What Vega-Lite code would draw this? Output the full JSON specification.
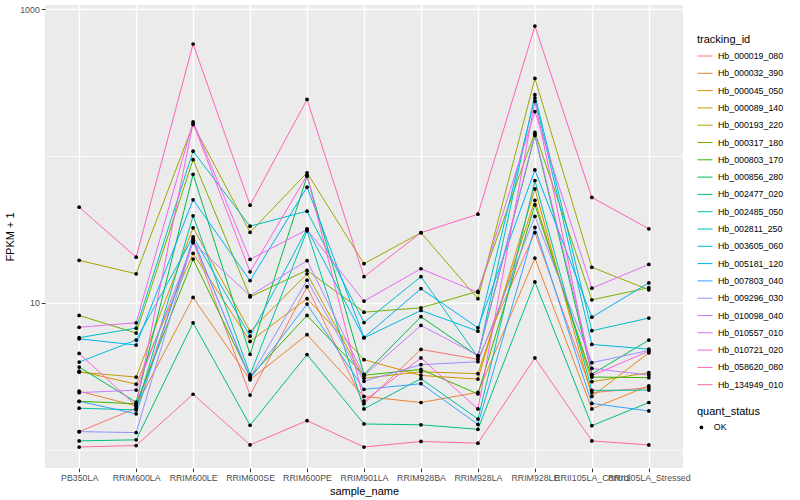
{
  "$schema": "https://vega.github.io/schema/vega-lite/v6.json",
  "width": 638,
  "height": 463,
  "autosize": "none",
  "padding": {"left": 45, "top": 5, "right": 117, "bottom": 32},
  "background": "white",
  "config": {
    "font": "Liberation Sans",
    "view": {"fill": "#EBEBEB", "stroke": null},
    "axis": {
      "domain": false,
      "grid": true,
      "gridColor": "white",
      "tickColor": "#333333",
      "tickSize": 3.7,
      "tickWidth": 1,
      "labelColor": "#4D4D4D",
      "labelFontSize": 8.8,
      "labelPadding": 2,
      "titleFontSize": 11,
      "titleFontWeight": "normal",
      "titleColor": "black"
    },
    "legend": {
      "titleFontSize": 11,
      "titleFontWeight": "normal",
      "titleColor": "black",
      "labelFontSize": 8.8,
      "labelColor": "black",
      "titlePadding": 5
    }
  },
  "data": {"values": [
    {"tracking_id":"Hb_000019_080","sample_name":"PB350LA","FPKM1":1.33,"quant_status":"OK"},
    {"tracking_id":"Hb_000019_080","sample_name":"RRIM600LA","FPKM1":1.92,"quant_status":"OK"},
    {"tracking_id":"Hb_000019_080","sample_name":"RRIM600LE","FPKM1":26.3,"quant_status":"OK"},
    {"tracking_id":"Hb_000019_080","sample_name":"RRIM600SE","FPKM1":2.36,"quant_status":"OK"},
    {"tracking_id":"Hb_000019_080","sample_name":"RRIM600PE","FPKM1":12.9,"quant_status":"OK"},
    {"tracking_id":"Hb_000019_080","sample_name":"RRIM901LA","FPKM1":2.06,"quant_status":"OK"},
    {"tracking_id":"Hb_000019_080","sample_name":"RRIM928BA","FPKM1":4.83,"quant_status":"OK"},
    {"tracking_id":"Hb_000019_080","sample_name":"RRIM928LA","FPKM1":4.13,"quant_status":"OK"},
    {"tracking_id":"Hb_000019_080","sample_name":"RRIM928LE","FPKM1":30.1,"quant_status":"OK"},
    {"tracking_id":"Hb_000019_080","sample_name":"RRII105LA_Control","FPKM1":2.45,"quant_status":"OK"},
    {"tracking_id":"Hb_000019_080","sample_name":"RRII105LA_Stressed","FPKM1":2.65,"quant_status":"OK"},

    {"tracking_id":"Hb_000032_390","sample_name":"PB350LA","FPKM1":2.51,"quant_status":"OK"},
    {"tracking_id":"Hb_000032_390","sample_name":"RRIM600LA","FPKM1":1.99,"quant_status":"OK"},
    {"tracking_id":"Hb_000032_390","sample_name":"RRIM600LE","FPKM1":10.9,"quant_status":"OK"},
    {"tracking_id":"Hb_000032_390","sample_name":"RRIM600SE","FPKM1":3.0,"quant_status":"OK"},
    {"tracking_id":"Hb_000032_390","sample_name":"RRIM600PE","FPKM1":6.08,"quant_status":"OK"},
    {"tracking_id":"Hb_000032_390","sample_name":"RRIM901LA","FPKM1":2.31,"quant_status":"OK"},
    {"tracking_id":"Hb_000032_390","sample_name":"RRIM928BA","FPKM1":2.10,"quant_status":"OK"},
    {"tracking_id":"Hb_000032_390","sample_name":"RRIM928LA","FPKM1":2.46,"quant_status":"OK"},
    {"tracking_id":"Hb_000032_390","sample_name":"RRIM928LE","FPKM1":20.2,"quant_status":"OK"},
    {"tracking_id":"Hb_000032_390","sample_name":"RRII105LA_Control","FPKM1":1.90,"quant_status":"OK"},
    {"tracking_id":"Hb_000032_390","sample_name":"RRII105LA_Stressed","FPKM1":2.73,"quant_status":"OK"},

    {"tracking_id":"Hb_000045_050","sample_name":"PB350LA","FPKM1":3.43,"quant_status":"OK"},
    {"tracking_id":"Hb_000045_050","sample_name":"RRIM600LA","FPKM1":2.80,"quant_status":"OK"},
    {"tracking_id":"Hb_000045_050","sample_name":"RRIM600LE","FPKM1":21.8,"quant_status":"OK"},
    {"tracking_id":"Hb_000045_050","sample_name":"RRIM600SE","FPKM1":5.47,"quant_status":"OK"},
    {"tracking_id":"Hb_000045_050","sample_name":"RRIM600PE","FPKM1":10.7,"quant_status":"OK"},
    {"tracking_id":"Hb_000045_050","sample_name":"RRIM901LA","FPKM1":4.11,"quant_status":"OK"},
    {"tracking_id":"Hb_000045_050","sample_name":"RRIM928BA","FPKM1":3.21,"quant_status":"OK"},
    {"tracking_id":"Hb_000045_050","sample_name":"RRIM928LA","FPKM1":3.03,"quant_status":"OK"},
    {"tracking_id":"Hb_000045_050","sample_name":"RRIM928LE","FPKM1":59.8,"quant_status":"OK"},
    {"tracking_id":"Hb_000045_050","sample_name":"RRII105LA_Control","FPKM1":2.31,"quant_status":"OK"},
    {"tracking_id":"Hb_000045_050","sample_name":"RRII105LA_Stressed","FPKM1":4.58,"quant_status":"OK"},

    {"tracking_id":"Hb_000089_140","sample_name":"PB350LA","FPKM1":3.38,"quant_status":"OK"},
    {"tracking_id":"Hb_000089_140","sample_name":"RRIM600LA","FPKM1":3.13,"quant_status":"OK"},
    {"tracking_id":"Hb_000089_140","sample_name":"RRIM600LE","FPKM1":32.5,"quant_status":"OK"},
    {"tracking_id":"Hb_000089_140","sample_name":"RRIM600SE","FPKM1":6.40,"quant_status":"OK"},
    {"tracking_id":"Hb_000089_140","sample_name":"RRIM600PE","FPKM1":15.8,"quant_status":"OK"},
    {"tracking_id":"Hb_000089_140","sample_name":"RRIM901LA","FPKM1":3.07,"quant_status":"OK"},
    {"tracking_id":"Hb_000089_140","sample_name":"RRIM928BA","FPKM1":3.4,"quant_status":"OK"},
    {"tracking_id":"Hb_000089_140","sample_name":"RRIM928LA","FPKM1":3.30,"quant_status":"OK"},
    {"tracking_id":"Hb_000089_140","sample_name":"RRIM928LE","FPKM1":50,"quant_status":"OK"},
    {"tracking_id":"Hb_000089_140","sample_name":"RRII105LA_Control","FPKM1":2.91,"quant_status":"OK"},
    {"tracking_id":"Hb_000089_140","sample_name":"RRII105LA_Stressed","FPKM1":3.35,"quant_status":"OK"},

    {"tracking_id":"Hb_000193_220","sample_name":"PB350LA","FPKM1":19.5,"quant_status":"OK"},
    {"tracking_id":"Hb_000193_220","sample_name":"RRIM600LA","FPKM1":15.8,"quant_status":"OK"},
    {"tracking_id":"Hb_000193_220","sample_name":"RRIM600LE","FPKM1":164,"quant_status":"OK"},
    {"tracking_id":"Hb_000193_220","sample_name":"RRIM600SE","FPKM1":30.3,"quant_status":"OK"},
    {"tracking_id":"Hb_000193_220","sample_name":"RRIM600PE","FPKM1":77,"quant_status":"OK"},
    {"tracking_id":"Hb_000193_220","sample_name":"RRIM901LA","FPKM1":18.5,"quant_status":"OK"},
    {"tracking_id":"Hb_000193_220","sample_name":"RRIM928BA","FPKM1":30.1,"quant_status":"OK"},
    {"tracking_id":"Hb_000193_220","sample_name":"RRIM928LA","FPKM1":10.7,"quant_status":"OK"},
    {"tracking_id":"Hb_000193_220","sample_name":"RRIM928LE","FPKM1":338,"quant_status":"OK"},
    {"tracking_id":"Hb_000193_220","sample_name":"RRII105LA_Control","FPKM1":17.5,"quant_status":"OK"},
    {"tracking_id":"Hb_000193_220","sample_name":"RRII105LA_Stressed","FPKM1":12.3,"quant_status":"OK"},

    {"tracking_id":"Hb_000317_180","sample_name":"PB350LA","FPKM1":8.22,"quant_status":"OK"},
    {"tracking_id":"Hb_000317_180","sample_name":"RRIM600LA","FPKM1":6.24,"quant_status":"OK"},
    {"tracking_id":"Hb_000317_180","sample_name":"RRIM600LE","FPKM1":94.6,"quant_status":"OK"},
    {"tracking_id":"Hb_000317_180","sample_name":"RRIM600SE","FPKM1":11.0,"quant_status":"OK"},
    {"tracking_id":"Hb_000317_180","sample_name":"RRIM600PE","FPKM1":16.7,"quant_status":"OK"},
    {"tracking_id":"Hb_000317_180","sample_name":"RRIM901LA","FPKM1":8.66,"quant_status":"OK"},
    {"tracking_id":"Hb_000317_180","sample_name":"RRIM928BA","FPKM1":9.27,"quant_status":"OK"},
    {"tracking_id":"Hb_000317_180","sample_name":"RRIM928LA","FPKM1":12.0,"quant_status":"OK"},
    {"tracking_id":"Hb_000317_180","sample_name":"RRIM928LE","FPKM1":145,"quant_status":"OK"},
    {"tracking_id":"Hb_000317_180","sample_name":"RRII105LA_Control","FPKM1":10.5,"quant_status":"OK"},
    {"tracking_id":"Hb_000317_180","sample_name":"RRII105LA_Stressed","FPKM1":12.7,"quant_status":"OK"},

    {"tracking_id":"Hb_000803_170","sample_name":"PB350LA","FPKM1":2.14,"quant_status":"OK"},
    {"tracking_id":"Hb_000803_170","sample_name":"RRIM600LA","FPKM1":2.06,"quant_status":"OK"},
    {"tracking_id":"Hb_000803_170","sample_name":"RRIM600LE","FPKM1":19.9,"quant_status":"OK"},
    {"tracking_id":"Hb_000803_170","sample_name":"RRIM600SE","FPKM1":3.15,"quant_status":"OK"},
    {"tracking_id":"Hb_000803_170","sample_name":"RRIM600PE","FPKM1":8.22,"quant_status":"OK"},
    {"tracking_id":"Hb_000803_170","sample_name":"RRIM901LA","FPKM1":3.22,"quant_status":"OK"},
    {"tracking_id":"Hb_000803_170","sample_name":"RRIM928BA","FPKM1":3.53,"quant_status":"OK"},
    {"tracking_id":"Hb_000803_170","sample_name":"RRIM928LA","FPKM1":2.40,"quant_status":"OK"},
    {"tracking_id":"Hb_000803_170","sample_name":"RRIM928LE","FPKM1":46.6,"quant_status":"OK"},
    {"tracking_id":"Hb_000803_170","sample_name":"RRII105LA_Control","FPKM1":3.13,"quant_status":"OK"},
    {"tracking_id":"Hb_000803_170","sample_name":"RRII105LA_Stressed","FPKM1":3.10,"quant_status":"OK"},

    {"tracking_id":"Hb_000856_280","sample_name":"PB350LA","FPKM1":3.66,"quant_status":"OK"},
    {"tracking_id":"Hb_000856_280","sample_name":"RRIM600LA","FPKM1":2.11,"quant_status":"OK"},
    {"tracking_id":"Hb_000856_280","sample_name":"RRIM600LE","FPKM1":75.2,"quant_status":"OK"},
    {"tracking_id":"Hb_000856_280","sample_name":"RRIM600SE","FPKM1":4.47,"quant_status":"OK"},
    {"tracking_id":"Hb_000856_280","sample_name":"RRIM600PE","FPKM1":73,"quant_status":"OK"},
    {"tracking_id":"Hb_000856_280","sample_name":"RRIM901LA","FPKM1":3.26,"quant_status":"OK"},
    {"tracking_id":"Hb_000856_280","sample_name":"RRIM928BA","FPKM1":8.06,"quant_status":"OK"},
    {"tracking_id":"Hb_000856_280","sample_name":"RRIM928LA","FPKM1":4.35,"quant_status":"OK"},
    {"tracking_id":"Hb_000856_280","sample_name":"RRIM928LE","FPKM1":138,"quant_status":"OK"},
    {"tracking_id":"Hb_000856_280","sample_name":"RRII105LA_Control","FPKM1":3.27,"quant_status":"OK"},
    {"tracking_id":"Hb_000856_280","sample_name":"RRII105LA_Stressed","FPKM1":5.59,"quant_status":"OK"},

    {"tracking_id":"Hb_002477_020","sample_name":"PB350LA","FPKM1":1.15,"quant_status":"OK"},
    {"tracking_id":"Hb_002477_020","sample_name":"RRIM600LA","FPKM1":1.17,"quant_status":"OK"},
    {"tracking_id":"Hb_002477_020","sample_name":"RRIM600LE","FPKM1":7.33,"quant_status":"OK"},
    {"tracking_id":"Hb_002477_020","sample_name":"RRIM600SE","FPKM1":1.47,"quant_status":"OK"},
    {"tracking_id":"Hb_002477_020","sample_name":"RRIM600PE","FPKM1":4.45,"quant_status":"OK"},
    {"tracking_id":"Hb_002477_020","sample_name":"RRIM901LA","FPKM1":1.50,"quant_status":"OK"},
    {"tracking_id":"Hb_002477_020","sample_name":"RRIM928BA","FPKM1":1.48,"quant_status":"OK"},
    {"tracking_id":"Hb_002477_020","sample_name":"RRIM928LA","FPKM1":1.38,"quant_status":"OK"},
    {"tracking_id":"Hb_002477_020","sample_name":"RRIM928LE","FPKM1":13.9,"quant_status":"OK"},
    {"tracking_id":"Hb_002477_020","sample_name":"RRII105LA_Control","FPKM1":1.46,"quant_status":"OK"},
    {"tracking_id":"Hb_002477_020","sample_name":"RRII105LA_Stressed","FPKM1":2.10,"quant_status":"OK"},

    {"tracking_id":"Hb_002485_050","sample_name":"PB350LA","FPKM1":1.92,"quant_status":"OK"},
    {"tracking_id":"Hb_002485_050","sample_name":"RRIM600LA","FPKM1":1.87,"quant_status":"OK"},
    {"tracking_id":"Hb_002485_050","sample_name":"RRIM600LE","FPKM1":39.2,"quant_status":"OK"},
    {"tracking_id":"Hb_002485_050","sample_name":"RRIM600SE","FPKM1":3.25,"quant_status":"OK"},
    {"tracking_id":"Hb_002485_050","sample_name":"RRIM600PE","FPKM1":31,"quant_status":"OK"},
    {"tracking_id":"Hb_002485_050","sample_name":"RRIM901LA","FPKM1":1.90,"quant_status":"OK"},
    {"tracking_id":"Hb_002485_050","sample_name":"RRIM928BA","FPKM1":3.05,"quant_status":"OK"},
    {"tracking_id":"Hb_002485_050","sample_name":"RRIM928LA","FPKM1":1.62,"quant_status":"OK"},
    {"tracking_id":"Hb_002485_050","sample_name":"RRIM928LE","FPKM1":68.1,"quant_status":"OK"},
    {"tracking_id":"Hb_002485_050","sample_name":"RRII105LA_Control","FPKM1":2.54,"quant_status":"OK"},
    {"tracking_id":"Hb_002485_050","sample_name":"RRII105LA_Stressed","FPKM1":2.55,"quant_status":"OK"},

    {"tracking_id":"Hb_002811_250","sample_name":"PB350LA","FPKM1":5.80,"quant_status":"OK"},
    {"tracking_id":"Hb_002811_250","sample_name":"RRIM600LA","FPKM1":6.74,"quant_status":"OK"},
    {"tracking_id":"Hb_002811_250","sample_name":"RRIM600LE","FPKM1":108,"quant_status":"OK"},
    {"tracking_id":"Hb_002811_250","sample_name":"RRIM600SE","FPKM1":33.3,"quant_status":"OK"},
    {"tracking_id":"Hb_002811_250","sample_name":"RRIM600PE","FPKM1":42.2,"quant_status":"OK"},
    {"tracking_id":"Hb_002811_250","sample_name":"RRIM901LA","FPKM1":7.36,"quant_status":"OK"},
    {"tracking_id":"Hb_002811_250","sample_name":"RRIM928BA","FPKM1":15.1,"quant_status":"OK"},
    {"tracking_id":"Hb_002811_250","sample_name":"RRIM928LA","FPKM1":4.28,"quant_status":"OK"},
    {"tracking_id":"Hb_002811_250","sample_name":"RRIM928LE","FPKM1":262,"quant_status":"OK"},
    {"tracking_id":"Hb_002811_250","sample_name":"RRII105LA_Control","FPKM1":6.47,"quant_status":"OK"},
    {"tracking_id":"Hb_002811_250","sample_name":"RRII105LA_Stressed","FPKM1":7.89,"quant_status":"OK"},

    {"tracking_id":"Hb_003605_060","sample_name":"PB350LA","FPKM1":3.96,"quant_status":"OK"},
    {"tracking_id":"Hb_003605_060","sample_name":"RRIM600LA","FPKM1":5.59,"quant_status":"OK"},
    {"tracking_id":"Hb_003605_060","sample_name":"RRIM600LE","FPKM1":28.2,"quant_status":"OK"},
    {"tracking_id":"Hb_003605_060","sample_name":"RRIM600SE","FPKM1":5.94,"quant_status":"OK"},
    {"tracking_id":"Hb_003605_060","sample_name":"RRIM600PE","FPKM1":32,"quant_status":"OK"},
    {"tracking_id":"Hb_003605_060","sample_name":"RRIM901LA","FPKM1":5.78,"quant_status":"OK"},
    {"tracking_id":"Hb_003605_060","sample_name":"RRIM928BA","FPKM1":8.89,"quant_status":"OK"},
    {"tracking_id":"Hb_003605_060","sample_name":"RRIM928LA","FPKM1":6.43,"quant_status":"OK"},
    {"tracking_id":"Hb_003605_060","sample_name":"RRIM928LE","FPKM1":249,"quant_status":"OK"},
    {"tracking_id":"Hb_003605_060","sample_name":"RRII105LA_Control","FPKM1":5.22,"quant_status":"OK"},
    {"tracking_id":"Hb_003605_060","sample_name":"RRII105LA_Stressed","FPKM1":4.85,"quant_status":"OK"},

    {"tracking_id":"Hb_005181_120","sample_name":"PB350LA","FPKM1":5.70,"quant_status":"OK"},
    {"tracking_id":"Hb_005181_120","sample_name":"RRIM600LA","FPKM1":5.17,"quant_status":"OK"},
    {"tracking_id":"Hb_005181_120","sample_name":"RRIM600LE","FPKM1":50.4,"quant_status":"OK"},
    {"tracking_id":"Hb_005181_120","sample_name":"RRIM600SE","FPKM1":14.2,"quant_status":"OK"},
    {"tracking_id":"Hb_005181_120","sample_name":"RRIM600PE","FPKM1":61.4,"quant_status":"OK"},
    {"tracking_id":"Hb_005181_120","sample_name":"RRIM901LA","FPKM1":5.82,"quant_status":"OK"},
    {"tracking_id":"Hb_005181_120","sample_name":"RRIM928BA","FPKM1":12.5,"quant_status":"OK"},
    {"tracking_id":"Hb_005181_120","sample_name":"RRIM928LA","FPKM1":6.78,"quant_status":"OK"},
    {"tracking_id":"Hb_005181_120","sample_name":"RRIM928LE","FPKM1":80.5,"quant_status":"OK"},
    {"tracking_id":"Hb_005181_120","sample_name":"RRII105LA_Control","FPKM1":8.0,"quant_status":"OK"},
    {"tracking_id":"Hb_005181_120","sample_name":"RRII105LA_Stressed","FPKM1":13.7,"quant_status":"OK"},

    {"tracking_id":"Hb_007803_040","sample_name":"PB350LA","FPKM1":2.14,"quant_status":"OK"},
    {"tracking_id":"Hb_007803_040","sample_name":"RRIM600LA","FPKM1":1.76,"quant_status":"OK"},
    {"tracking_id":"Hb_007803_040","sample_name":"RRIM600LE","FPKM1":27.3,"quant_status":"OK"},
    {"tracking_id":"Hb_007803_040","sample_name":"RRIM600SE","FPKM1":3.05,"quant_status":"OK"},
    {"tracking_id":"Hb_007803_040","sample_name":"RRIM600PE","FPKM1":9.82,"quant_status":"OK"},
    {"tracking_id":"Hb_007803_040","sample_name":"RRIM901LA","FPKM1":2.58,"quant_status":"OK"},
    {"tracking_id":"Hb_007803_040","sample_name":"RRIM928BA","FPKM1":2.82,"quant_status":"OK"},
    {"tracking_id":"Hb_007803_040","sample_name":"RRIM928LA","FPKM1":1.49,"quant_status":"OK"},
    {"tracking_id":"Hb_007803_040","sample_name":"RRIM928LE","FPKM1":32.7,"quant_status":"OK"},
    {"tracking_id":"Hb_007803_040","sample_name":"RRII105LA_Control","FPKM1":2.07,"quant_status":"OK"},
    {"tracking_id":"Hb_007803_040","sample_name":"RRII105LA_Stressed","FPKM1":1.84,"quant_status":"OK"},

    {"tracking_id":"Hb_009296_030","sample_name":"PB350LA","FPKM1":1.33,"quant_status":"OK"},
    {"tracking_id":"Hb_009296_030","sample_name":"RRIM600LA","FPKM1":1.31,"quant_status":"OK"},
    {"tracking_id":"Hb_009296_030","sample_name":"RRIM600LE","FPKM1":26.8,"quant_status":"OK"},
    {"tracking_id":"Hb_009296_030","sample_name":"RRIM600SE","FPKM1":3.1,"quant_status":"OK"},
    {"tracking_id":"Hb_009296_030","sample_name":"RRIM600PE","FPKM1":14.3,"quant_status":"OK"},
    {"tracking_id":"Hb_009296_030","sample_name":"RRIM901LA","FPKM1":2.93,"quant_status":"OK"},
    {"tracking_id":"Hb_009296_030","sample_name":"RRIM928BA","FPKM1":3.80,"quant_status":"OK"},
    {"tracking_id":"Hb_009296_030","sample_name":"RRIM928LA","FPKM1":3.98,"quant_status":"OK"},
    {"tracking_id":"Hb_009296_030","sample_name":"RRIM928LE","FPKM1":38.9,"quant_status":"OK"},
    {"tracking_id":"Hb_009296_030","sample_name":"RRII105LA_Control","FPKM1":3.92,"quant_status":"OK"},
    {"tracking_id":"Hb_009296_030","sample_name":"RRII105LA_Stressed","FPKM1":4.75,"quant_status":"OK"},

    {"tracking_id":"Hb_010098_040","sample_name":"PB350LA","FPKM1":2.45,"quant_status":"OK"},
    {"tracking_id":"Hb_010098_040","sample_name":"RRIM600LA","FPKM1":2.55,"quant_status":"OK"},
    {"tracking_id":"Hb_010098_040","sample_name":"RRIM600LE","FPKM1":25.7,"quant_status":"OK"},
    {"tracking_id":"Hb_010098_040","sample_name":"RRIM600SE","FPKM1":11.2,"quant_status":"OK"},
    {"tracking_id":"Hb_010098_040","sample_name":"RRIM600PE","FPKM1":19.4,"quant_status":"OK"},
    {"tracking_id":"Hb_010098_040","sample_name":"RRIM901LA","FPKM1":3.2,"quant_status":"OK"},
    {"tracking_id":"Hb_010098_040","sample_name":"RRIM928BA","FPKM1":7.03,"quant_status":"OK"},
    {"tracking_id":"Hb_010098_040","sample_name":"RRIM928LA","FPKM1":4.40,"quant_status":"OK"},
    {"tracking_id":"Hb_010098_040","sample_name":"RRIM928LE","FPKM1":141,"quant_status":"OK"},
    {"tracking_id":"Hb_010098_040","sample_name":"RRII105LA_Control","FPKM1":3.58,"quant_status":"OK"},
    {"tracking_id":"Hb_010098_040","sample_name":"RRII105LA_Stressed","FPKM1":3.23,"quant_status":"OK"},

    {"tracking_id":"Hb_010557_010","sample_name":"PB350LA","FPKM1":6.83,"quant_status":"OK"},
    {"tracking_id":"Hb_010557_010","sample_name":"RRIM600LA","FPKM1":7.33,"quant_status":"OK"},
    {"tracking_id":"Hb_010557_010","sample_name":"RRIM600LE","FPKM1":171,"quant_status":"OK"},
    {"tracking_id":"Hb_010557_010","sample_name":"RRIM600SE","FPKM1":19.8,"quant_status":"OK"},
    {"tracking_id":"Hb_010557_010","sample_name":"RRIM600PE","FPKM1":31.6,"quant_status":"OK"},
    {"tracking_id":"Hb_010557_010","sample_name":"RRIM901LA","FPKM1":10.3,"quant_status":"OK"},
    {"tracking_id":"Hb_010557_010","sample_name":"RRIM928BA","FPKM1":17.1,"quant_status":"OK"},
    {"tracking_id":"Hb_010557_010","sample_name":"RRIM928LA","FPKM1":11.8,"quant_status":"OK"},
    {"tracking_id":"Hb_010557_010","sample_name":"RRIM928LE","FPKM1":201,"quant_status":"OK"},
    {"tracking_id":"Hb_010557_010","sample_name":"RRII105LA_Control","FPKM1":12.6,"quant_status":"OK"},
    {"tracking_id":"Hb_010557_010","sample_name":"RRII105LA_Stressed","FPKM1":18.3,"quant_status":"OK"},

    {"tracking_id":"Hb_010721_020","sample_name":"PB350LA","FPKM1":4.53,"quant_status":"OK"},
    {"tracking_id":"Hb_010721_020","sample_name":"RRIM600LA","FPKM1":2.0,"quant_status":"OK"},
    {"tracking_id":"Hb_010721_020","sample_name":"RRIM600LE","FPKM1":168,"quant_status":"OK"},
    {"tracking_id":"Hb_010721_020","sample_name":"RRIM600SE","FPKM1":16.3,"quant_status":"OK"},
    {"tracking_id":"Hb_010721_020","sample_name":"RRIM600PE","FPKM1":74,"quant_status":"OK"},
    {"tracking_id":"Hb_010721_020","sample_name":"RRIM901LA","FPKM1":2.15,"quant_status":"OK"},
    {"tracking_id":"Hb_010721_020","sample_name":"RRIM928BA","FPKM1":4.22,"quant_status":"OK"},
    {"tracking_id":"Hb_010721_020","sample_name":"RRIM928LA","FPKM1":1.90,"quant_status":"OK"},
    {"tracking_id":"Hb_010721_020","sample_name":"RRIM928LE","FPKM1":236,"quant_status":"OK"},
    {"tracking_id":"Hb_010721_020","sample_name":"RRII105LA_Control","FPKM1":3.2,"quant_status":"OK"},
    {"tracking_id":"Hb_010721_020","sample_name":"RRII105LA_Stressed","FPKM1":4.7,"quant_status":"OK"},

    {"tracking_id":"Hb_058620_080","sample_name":"PB350LA","FPKM1":44.9,"quant_status":"OK"},
    {"tracking_id":"Hb_058620_080","sample_name":"RRIM600LA","FPKM1":20.5,"quant_status":"OK"},
    {"tracking_id":"Hb_058620_080","sample_name":"RRIM600LE","FPKM1":580,"quant_status":"OK"},
    {"tracking_id":"Hb_058620_080","sample_name":"RRIM600SE","FPKM1":46.3,"quant_status":"OK"},
    {"tracking_id":"Hb_058620_080","sample_name":"RRIM600PE","FPKM1":243,"quant_status":"OK"},
    {"tracking_id":"Hb_058620_080","sample_name":"RRIM901LA","FPKM1":15.1,"quant_status":"OK"},
    {"tracking_id":"Hb_058620_080","sample_name":"RRIM928BA","FPKM1":30.1,"quant_status":"OK"},
    {"tracking_id":"Hb_058620_080","sample_name":"RRIM928LA","FPKM1":40.2,"quant_status":"OK"},
    {"tracking_id":"Hb_058620_080","sample_name":"RRIM928LE","FPKM1":769,"quant_status":"OK"},
    {"tracking_id":"Hb_058620_080","sample_name":"RRII105LA_Control","FPKM1":52.3,"quant_status":"OK"},
    {"tracking_id":"Hb_058620_080","sample_name":"RRII105LA_Stressed","FPKM1":32.0,"quant_status":"OK"},

    {"tracking_id":"Hb_134949_010","sample_name":"PB350LA","FPKM1":1.045,"quant_status":"OK"},
    {"tracking_id":"Hb_134949_010","sample_name":"RRIM600LA","FPKM1":1.07,"quant_status":"OK"},
    {"tracking_id":"Hb_134949_010","sample_name":"RRIM600LE","FPKM1":2.39,"quant_status":"OK"},
    {"tracking_id":"Hb_134949_010","sample_name":"RRIM600SE","FPKM1":1.08,"quant_status":"OK"},
    {"tracking_id":"Hb_134949_010","sample_name":"RRIM600PE","FPKM1":1.58,"quant_status":"OK"},
    {"tracking_id":"Hb_134949_010","sample_name":"RRIM901LA","FPKM1":1.045,"quant_status":"OK"},
    {"tracking_id":"Hb_134949_010","sample_name":"RRIM928BA","FPKM1":1.14,"quant_status":"OK"},
    {"tracking_id":"Hb_134949_010","sample_name":"RRIM928LA","FPKM1":1.11,"quant_status":"OK"},
    {"tracking_id":"Hb_134949_010","sample_name":"RRIM928LE","FPKM1":4.22,"quant_status":"OK"},
    {"tracking_id":"Hb_134949_010","sample_name":"RRII105LA_Control","FPKM1":1.15,"quant_status":"OK"},
    {"tracking_id":"Hb_134949_010","sample_name":"RRII105LA_Stressed","FPKM1":1.08,"quant_status":"OK"}
  ]},
  "encoding": {
    "x": {
      "field": "sample_name",
      "type": "nominal",
      "sort": null,
      "scale": {"type": "point", "padding": 0.6},
      "axis": {"labelAngle": 0, "gridWidth": 1.4, "title": "sample_name", "titlePadding": 3}
    },
    "y": {
      "field": "FPKM1",
      "type": "quantitative",
      "scale": {"type": "log", "domain": [0.752, 1069], "nice": false},
      "axis": {
        "title": "FPKM + 1",
        "values": [1, 10, 100, 1000],
        "labelExpr": "datum.value == 10 || datum.value == 1000 ? format(datum.value, 'd') : ''",
        "gridWidth": {"condition": {"test": "datum.value == 10 || datum.value == 1000", "value": 1.4}, "value": 0.7},
        "tickOpacity": {"condition": {"test": "datum.value == 10 || datum.value == 1000", "value": 1}, "value": 0},
        "titlePadding": 4
      }
    }
  },
  "layer": [
    {
      "mark": {"type": "line", "strokeWidth": 1},
      "encoding": {
        "color": {
          "field": "tracking_id",
          "type": "nominal",
          "scale": {
            "domain": ["Hb_000019_080","Hb_000032_390","Hb_000045_050","Hb_000089_140","Hb_000193_220","Hb_000317_180","Hb_000803_170","Hb_000856_280","Hb_002477_020","Hb_002485_050","Hb_002811_250","Hb_003605_060","Hb_005181_120","Hb_007803_040","Hb_009296_030","Hb_010098_040","Hb_010557_010","Hb_010721_020","Hb_058620_080","Hb_134949_010"],
            "range": ["#F8766D","#EA8331","#D89000","#C09B00","#A3A500","#7CAE00","#39B600","#00BB4E","#00BF7D","#00C1A3","#00BFC4","#00BAE0","#00B0F6","#35A2FF","#9590FF","#C77CFF","#E76BF3","#FA62DB","#FF62BC","#FF6C91"]
          },
          "legend": {
            "title": "tracking_id",
            "orient": "none",
            "legendX": 652,
            "legendY": 29,
            "symbolType": "stroke",
            "symbolSize": 225,
            "symbolStrokeWidth": 1,
            "rowPadding": 4.3,
            "labelOffset": 5,
            "titlePadding": 3
          }
        }
      }
    },
    {
      "mark": {"type": "point", "filled": true, "size": 14, "color": "black", "opacity": 1},
      "encoding": {
        "shape": {
          "field": "quant_status",
          "type": "nominal",
          "scale": {"range": ["circle"]},
          "legend": {
            "title": "quant_status",
            "orient": "none",
            "legendX": 652,
            "legendY": 401,
            "symbolSize": 14,
            "symbolFillColor": "black",
            "symbolStrokeColor": "black",
            "labelOffset": 8,
            "titlePadding": 6
          }
        }
      }
    }
  ]
}
